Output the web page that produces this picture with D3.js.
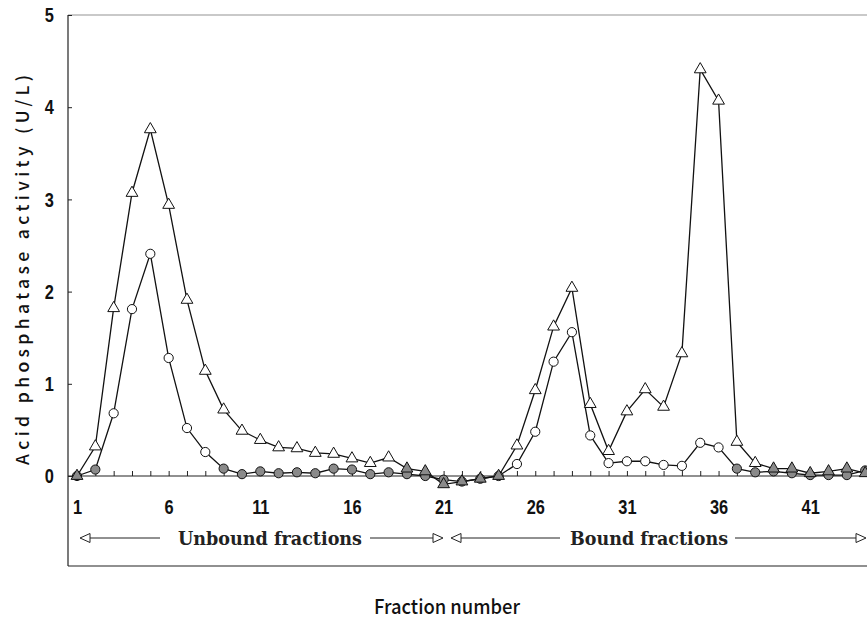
<!DOCTYPE html>
<html>
<head>
<meta charset="utf-8">
<script src="https://cdn.jsdelivr.net/npm/d3@7/dist/d3.min.js"></script>
<style>
  html, body { margin: 0; padding: 0; background: #fff; }
  svg { display: block; }
</style>
</head>
<body>
<svg id="chart" width="867" height="623"></svg>
<script>
// ---- data ----
const fractions = [1,2,3,4,5,6,7,8,9,10,11,12,13,14,15,16,17,18,19,20,21,22,
                   23,24,25,26,27,28,29,30,31,32,33,34,35,36,37,38,39,40,41,42,43,44];
const triangleValues = [0.00,0.32,1.82,3.07,3.76,2.94,1.91,1.14,0.72,0.49,0.39,0.31,
                        0.30,0.25,0.24,0.19,0.14,0.20,0.08,0.05,-0.09,-0.06,-0.03,0.00,
                        0.33,0.93,1.62,2.04,0.78,0.27,0.70,0.94,0.75,1.33,4.41,4.07,
                        0.37,0.14,0.08,0.08,0.03,0.05,0.08,0.03];
const circleValues = [0.00,0.07,0.68,1.81,2.41,1.28,0.52,0.26,0.08,0.02,0.05,0.03,
                      0.04,0.03,0.08,0.07,0.02,0.04,0.02,0.00,-0.04,-0.06,-0.03,0.00,
                      0.13,0.48,1.24,1.56,0.44,0.14,0.16,0.16,0.12,0.11,0.36,0.31,
                      0.08,0.04,0.05,0.03,0.01,0.01,0.01,0.06];
const xTickLabels = [1,6,11,16,21,26,31,36,41];
const yTickLabels = [0,1,2,3,4,5];
const xTitle = "Fraction number";
const yTitle = "Acid phosphatase activity (U/L)";
const unboundLabel = "Unbound fractions";
const boundLabel = "Bound fractions";

// ---- layout ----
const svg = d3.select("#chart");
const boxL = 68, boxR = 867, boxT = 15, boxB = 566;
const x = d3.scaleLinear().domain([1, 44]).range([77, 865.2]);
const y = d3.scaleLinear().domain([0, 5]).range([476, 15]);

const tickFont = "'Liberation Sans', Arial, sans-serif";

function styleTickText(sel) {
  sel.attr("font-family", tickFont).attr("font-weight", "bold").attr("font-size", 21)
    .attr("transform", "scale(0.78,1)").attr("fill", "#111");
}

// box lines
svg.append("line").attr("x1", boxL).attr("x2", boxL).attr("y1", boxT).attr("y2", boxB)
  .attr("stroke", "#222").attr("stroke-width", 1.2);
svg.append("line").attr("x1", boxL).attr("x2", boxR).attr("y1", boxB).attr("y2", boxB)
  .attr("stroke", "#222").attr("stroke-width", 1.2);
svg.append("line").attr("x1", boxL).attr("x2", boxR).attr("y1", boxT).attr("y2", boxT)
  .attr("stroke", "#666").attr("stroke-width", 0.7);

// y axis
const yAxis = svg.append("g").attr("transform", `translate(${boxL},0)`)
  .call(d3.axisLeft(y).tickValues(yTickLabels).tickFormat(d3.format("d"))
        .tickSizeInner(-4).tickSizeOuter(0).tickPadding(18));
yAxis.select(".domain").remove();
yAxis.selectAll(".tick line").attr("stroke", "#222");
styleTickText(yAxis.selectAll(".tick text"));

// x axis line (at y=0)
svg.append("line").attr("x1", boxL).attr("x2", boxR).attr("y1", y(0)).attr("y2", y(0))
  .attr("stroke", "#222").attr("stroke-width", 1.2);
// x tick marks (every fraction, pointing up)
const xTicks = svg.append("g").attr("transform", `translate(0,${y(0)})`)
  .call(d3.axisBottom(x).tickValues(fractions).tickFormat("").tickSizeInner(-5).tickSizeOuter(0));
xTicks.select(".domain").remove();
xTicks.selectAll(".tick line").attr("stroke", "#222");
// x tick labels
const xLabels = svg.append("g").attr("transform", `translate(0,${y(0)})`)
  .call(d3.axisBottom(x).tickValues(xTickLabels).tickFormat(d3.format("d")).tickSize(0).tickPadding(23));
xLabels.select(".domain").remove();
styleTickText(xLabels.selectAll(".tick text"));

// axis titles
svg.append("text")
  .attr("transform", "translate(29,270) rotate(-90)")
  .attr("text-anchor", "middle")
  .attr("font-family", "'Noto Sans CJK JP', 'DejaVu Sans', sans-serif")
  .attr("font-weight", 500)
  .attr("font-size", 17.5)
  .attr("textLength", 390).attr("lengthAdjust", "spacing")
  .attr("fill", "#111")
  .text(yTitle);
svg.append("text")
  .attr("x", 447).attr("y", 614)
  .attr("text-anchor", "middle")
  .attr("font-family", "'Noto Sans CJK JP', 'Noto Sans', sans-serif")
  .attr("font-weight", 500)
  .attr("font-size", 20)
  .attr("textLength", 146).attr("lengthAdjust", "spacingAndGlyphs")
  .attr("fill", "#111")
  .text(xTitle);

// annotations with arrows
const arrowY = 538;
function arrowHead(tipX, dir) {
  const len = 10, half = 4.5;
  const pts = [[tipX, arrowY], [tipX - dir * len, arrowY - half], [tipX - dir * len, arrowY + half]];
  svg.append("path").attr("d", d3.line()(pts) + "Z")
    .attr("fill", "#fff").attr("stroke", "#222").attr("stroke-width", 1);
}
function arrowLine(x1, x2) {
  svg.append("line").attr("x1", x1).attr("x2", x2).attr("y1", arrowY).attr("y2", arrowY)
    .attr("stroke", "#222").attr("stroke-width", 1);
}
arrowLine(88, 160); arrowHead(80, -1);
arrowLine(370, 434); arrowHead(443, 1);
arrowLine(461, 560); arrowHead(451, -1);
arrowLine(735, 856); arrowHead(866, 1);

const annoFont = "'DejaVu Serif', 'Liberation Serif', serif";
svg.append("text").attr("x", 270).attr("y", 545).attr("text-anchor", "middle")
  .attr("font-family", annoFont).attr("font-weight", "bold").attr("font-size", 18)
  .attr("textLength", 184).attr("lengthAdjust", "spacingAndGlyphs")
  .attr("fill", "#222").text(unboundLabel);
svg.append("text").attr("x", 649).attr("y", 545).attr("text-anchor", "middle")
  .attr("font-family", annoFont).attr("font-weight", "bold").attr("font-size", 18)
  .attr("textLength", 158).attr("lengthAdjust", "spacingAndGlyphs")
  .attr("fill", "#222").text(boundLabel);

// ---- series ----
const plot = svg.append("g");
const triData = fractions.map((f, i) => ({f, v: triangleValues[i]}));
const cirData = fractions.map((f, i) => ({f, v: circleValues[i]}));
const line = d3.line().x(d => x(d.f)).y(d => y(d.v));
const fillFor = d => Math.abs(d.v) < 0.1 ? "#8a8a8a" : "#fff";

plot.append("path").datum(cirData).attr("d", line)
  .attr("fill", "none").attr("stroke", "#111").attr("stroke-width", 1.3);
plot.append("path").datum(triData).attr("d", line)
  .attr("fill", "none").attr("stroke", "#111").attr("stroke-width", 1.3);

plot.selectAll("circle.c").data(cirData).join("circle")
  .attr("class", "c")
  .attr("cx", d => x(d.f)).attr("cy", d => y(d.v)).attr("r", 4.6)
  .attr("fill", fillFor).attr("stroke", "#111").attr("stroke-width", 1);

const triSym = d3.symbol().type(d3.symbolTriangle).size(60);
plot.selectAll("path.t").data(triData).join("path")
  .attr("class", "t")
  .attr("transform", d => `translate(${x(d.f)},${y(d.v)})`)
  .attr("d", triSym)
  .attr("fill", fillFor).attr("stroke", "#111").attr("stroke-width", 1);
</script>
</body>
</html>
